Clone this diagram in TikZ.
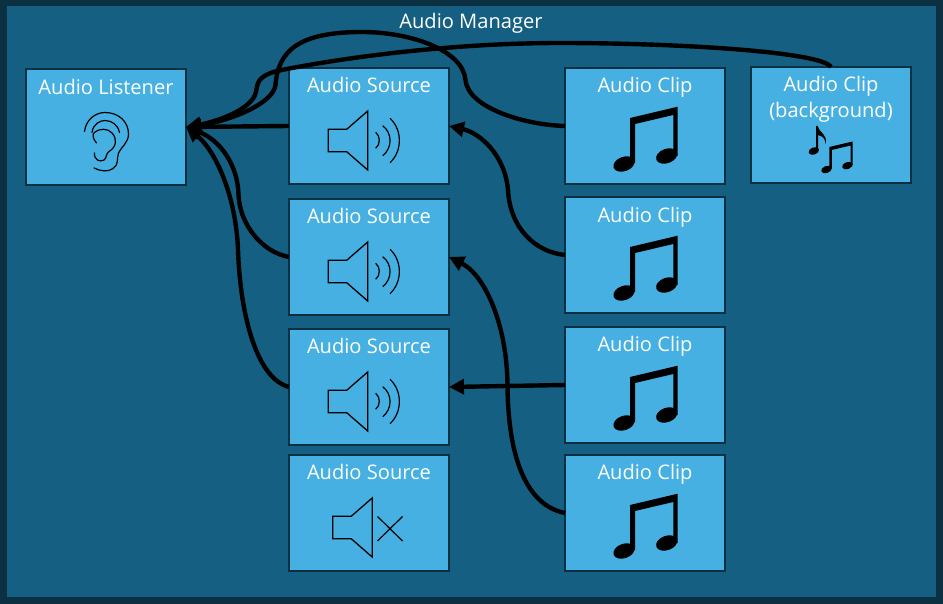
\documentclass[tikz,border=0pt]{standalone}
\usepackage{fontspec}
\setmainfont{Open Sans}
\usetikzlibrary{arrows.meta}
\definecolor{mgr}{HTML}{156082}
\definecolor{edgec}{HTML}{0B3041}
\definecolor{boxc}{HTML}{45B0E1}
\tikzset{
  x=1pt,y=-1pt,
  boxn/.style={draw=edgec,line width=2pt,fill=boxc,minimum width=160pt,minimum height=116pt,inner sep=0pt,outer sep=0pt,anchor=north west},
  lbl/.style={text=white,font=\fontsize{20.1}{26}\selectfont,inner sep=0pt,align=center},
  conn/.style={draw=black,line width=4.4pt,-{Triangle[length=15pt,width=15pt]}},
  icon/.style={draw=black,line width=1.2pt,line join=miter},
  pics/spk/.style={code={
    \draw[icon,line width=1.3pt] (39.3,61.3) -- (57.7,61.3) -- (78.7,43) -- (78.7,102) -- (57.7,83.7) -- (39.3,83.7) -- cycle;
  }},
  pics/waves/.style={code={
    \draw[icon] (86.7,64.3) .. controls (91.5,68) and (91.5,76.5) .. (86.7,80.3);
    \draw[icon] (93.7,57.7) .. controls (103.5,65) and (103.5,80) .. (93.7,87.7);
    \draw[icon] (101,50.3) .. controls (113.5,62) and (113.5,83) .. (101,94.7);
  }},
  pics/note/.style={code={
    \fill[black] (65,50) -- (112.7,38.7) -- (112.7,88) -- (108.3,88) -- (108.3,47) -- (70,56) -- (70,95) -- (65,95) -- cycle;
    \fill[black,rotate around={20:(59,96)}] (59,96) ellipse (11pt and 7.2pt);
    \fill[black,rotate around={20:(101.7,88)}] (101.7,88) ellipse (11pt and 7.2pt);
  }},
}
\begin{document}
\begin{tikzpicture}
\useasboundingbox (0,0) rectangle (943,604);
\fill[edgec] (0,0) rectangle (943,604);
\node[fill=mgr,draw=none,minimum width=929pt,minimum height=591pt,anchor=north west,inner sep=0pt] (mgrbox) at (7,6) {};
\node[lbl] (mgrlab) at (471,23) {Audio Manager};

\node[boxn] (lis) at (26,69) {};
\node[boxn] (s1) at (289,68) {};
\node[boxn] (s2) at (289,199) {};
\node[boxn] (s3) at (289,329) {};
\node[boxn] (s4) at (289,455) {};
\node[boxn] (c1) at (565,68) {};
\node[boxn] (c2) at (565,197) {};
\node[boxn] (c3) at (565,327) {};
\node[boxn] (c4) at (565,455) {};
\node[boxn] (bg) at (751,67) {};

\node[lbl] (lisl) at (106,87) {Audio Listener};
\node[lbl] (s1l) at (369,85) {Audio Source};
\node[lbl] (s2l) at (369,216) {Audio Source};
\node[lbl] (s3l) at (369,346) {Audio Source};
\node[lbl] (s4l) at (369,472) {Audio Source};
\node[lbl] (c1l) at (645,87) {Audio Clip};
\node[lbl] (c2l) at (645,217) {Audio Clip};
\node[lbl] (c3l) at (645,346) {Audio Clip};
\node[lbl] (c4l) at (645,474) {Audio Clip};
\node[lbl] (bgl) at (831,99) {Audio Clip\\(background)};

% speakers
\pic at (289,68) {spk}; \pic at (289,68) {waves};
\pic at (289,199) {spk}; \pic at (289,199) {waves};
\pic at (289,329) {spk}; \pic at (289,329) {waves};
\pic at (293.5,455) {spk};
\draw[icon] (377.5,516.5) -- (402.5,541) (402.5,516.5) -- (377.5,541);

% notes
\pic at (565,68) {note};
\pic at (565,197) {note};
\pic at (565,327) {note};
\pic at (565,455) {note};
\pic[scale=0.49] at (797.5,122.5) {note};
\fill[black] (816,126) -- (817.6,126) .. controls (819,133) and (828,134) .. (825.5,144) .. controls (825.5,138) and (822,136) .. (818,135) -- (818,151) -- (816,151) -- cycle;
\fill[black,rotate around={20:(813.8,151)}] (813.8,151) ellipse (5.4pt and 3.6pt);

% ear
\begin{scope}[icon,line cap=round]
\draw (84.5,131.5) .. controls (86,119) and (96,112.5) .. (105,112.5) .. controls (119,112.5) and (128.5,122) .. (128.5,134) .. controls (128.5,143) and (121,147) .. (118.5,153) .. controls (116.5,159) and (119,165) .. (113,168.5) .. controls (108,172.5) and (100,171) .. (94,168);
\draw (92,132.5) .. controls (93,124) and (100,120.5) .. (105,120.5) .. controls (112,120.5) and (118,125) .. (119.5,132.5);
\draw (96.5,143) .. controls (93,139) and (91.5,134) .. (95,132) .. controls (99,128.5) and (108,128) .. (112,133) .. controls (117.5,139) and (116.5,147) .. (109,151.5) .. controls (105.5,154) and (107,158) .. (104,160) .. controls (100,162.5) and (94,160) .. (94.5,153);
\end{scope}

% connectors
\draw[conn] (s1.west) -- (lis.east);
\draw[conn] (s2.west) .. controls (262,252) and (240,225) .. (238.5,195) .. controls (238,165) and (220,140) .. (lis.east);
\draw[conn] (s3.west) .. controls (255,378) and (240,310) .. (238,250) .. controls (236,195) and (215,150) .. (lis.east);
\draw[conn] (c1.west) .. controls (525,125) and (468,108) .. (465.5,80) .. controls (463,50) and (410,32) .. (362,32) .. controls (300,32) and (278,50) .. (275.5,85) .. controls (273,105) and (225,122) .. (lis.east);
\draw[conn] (bg.north) .. controls (822,52) and (680,43) .. (560,43) .. controls (450,43) and (340,58) .. (277,71) .. controls (255,77) and (258,85) .. (256,92) .. controls (252,110) and (215,122) .. (lis.east);
\draw[conn] (c2.west) .. controls (535,252) and (510,228) .. (508,190) .. controls (505,155) and (480,133) .. (s1.east);
\draw[conn] (c3.west) -- (s3.east);
\draw[conn] (c4.west) .. controls (525,505) and (508,455) .. (507.5,385) .. controls (507,325) and (485,275) .. (s2.east);
\end{tikzpicture}
\end{document}
